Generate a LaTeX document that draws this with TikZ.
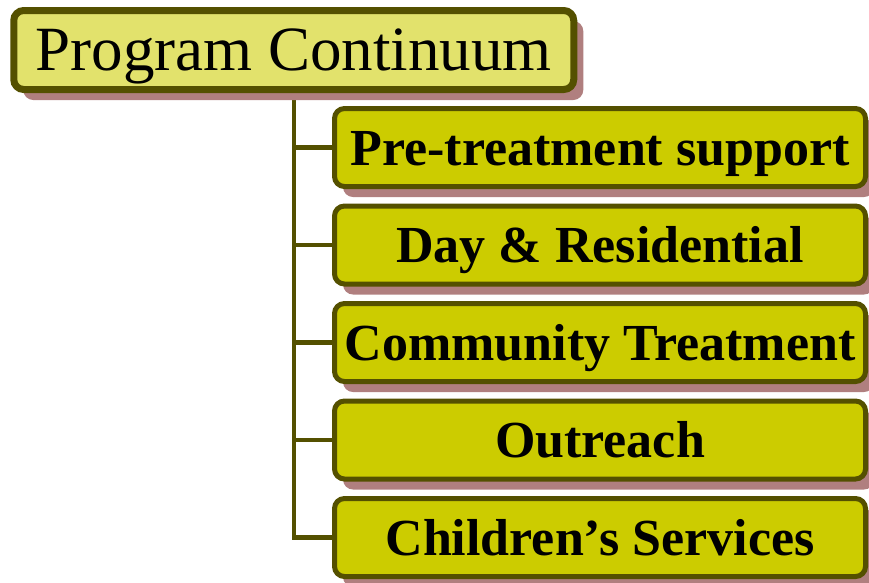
\documentclass[tikz,border=0pt]{standalone}
\usepackage{fontspec}
\setmainfont{Liberation Serif}
\usetikzlibrary{shadows}
\definecolor{bordc}{HTML}{545000}
\definecolor{titlefill}{HTML}{E2E26C}
\definecolor{childfill}{HTML}{CCCC00}
\definecolor{shadowc}{HTML}{B07F7F}
\tikzset{
  boxbase/.style={draw=bordc, rounded corners=10pt, align=center, inner sep=0pt},
  titlebox/.style={boxbase, line width=7pt, fill=titlefill, minimum width=560pt, minimum height=79pt,
    text height=59.5pt, text depth=19.5pt,
    drop shadow={shadow xshift=9.5pt, shadow yshift=-10.5pt, fill=shadowc, opacity=1},
    font=\fontsize{63}{70}\selectfont},
  childbox/.style={boxbase, line width=5pt, fill=childfill, minimum width=531pt, minimum height=78pt,
    text height=56.5pt, text depth=21.5pt,
    drop shadow={shadow xshift=8.5pt, shadow yshift=-10.5pt, fill=shadowc, opacity=1},
    font=\fontsize{52}{58}\selectfont\bfseries},
  conn/.style={draw=bordc, line width=4.5pt}
}
\begin{document}
\begin{tikzpicture}[x=1pt,y=-1pt]
\useasboundingbox (0,0) rectangle (869,582);
\coordinate (t1) at (294,95);
\coordinate (t2) at (294,147.5);
\coordinate (t3) at (294,245);
\coordinate (t4) at (294,342.5);
\coordinate (t5) at (294,440);
\coordinate (t6) at (294,537.5);
\draw[conn] (t1) -- (t6) -- (336,537.5);
\draw[conn] (t2) -- (336,147.5);
\draw[conn] (t3) -- (336,245);
\draw[conn] (t4) -- (336,342.5);
\draw[conn] (t5) -- (336,440);
\node[titlebox] (title) at (293.75,50) {Program Continuum};
\node[childbox] (c1) at (600,147.5) {Pre-treatment support};
\node[childbox] (c2) at (600,245) {Day \& Residential};
\node[childbox] (c3) at (600,342.5) {Community Treatment};
\node[childbox] (c4) at (600,440) {Outreach};
\node[childbox] (c5) at (600,537.5) {Children’s Services};
\end{tikzpicture}
\end{document}
